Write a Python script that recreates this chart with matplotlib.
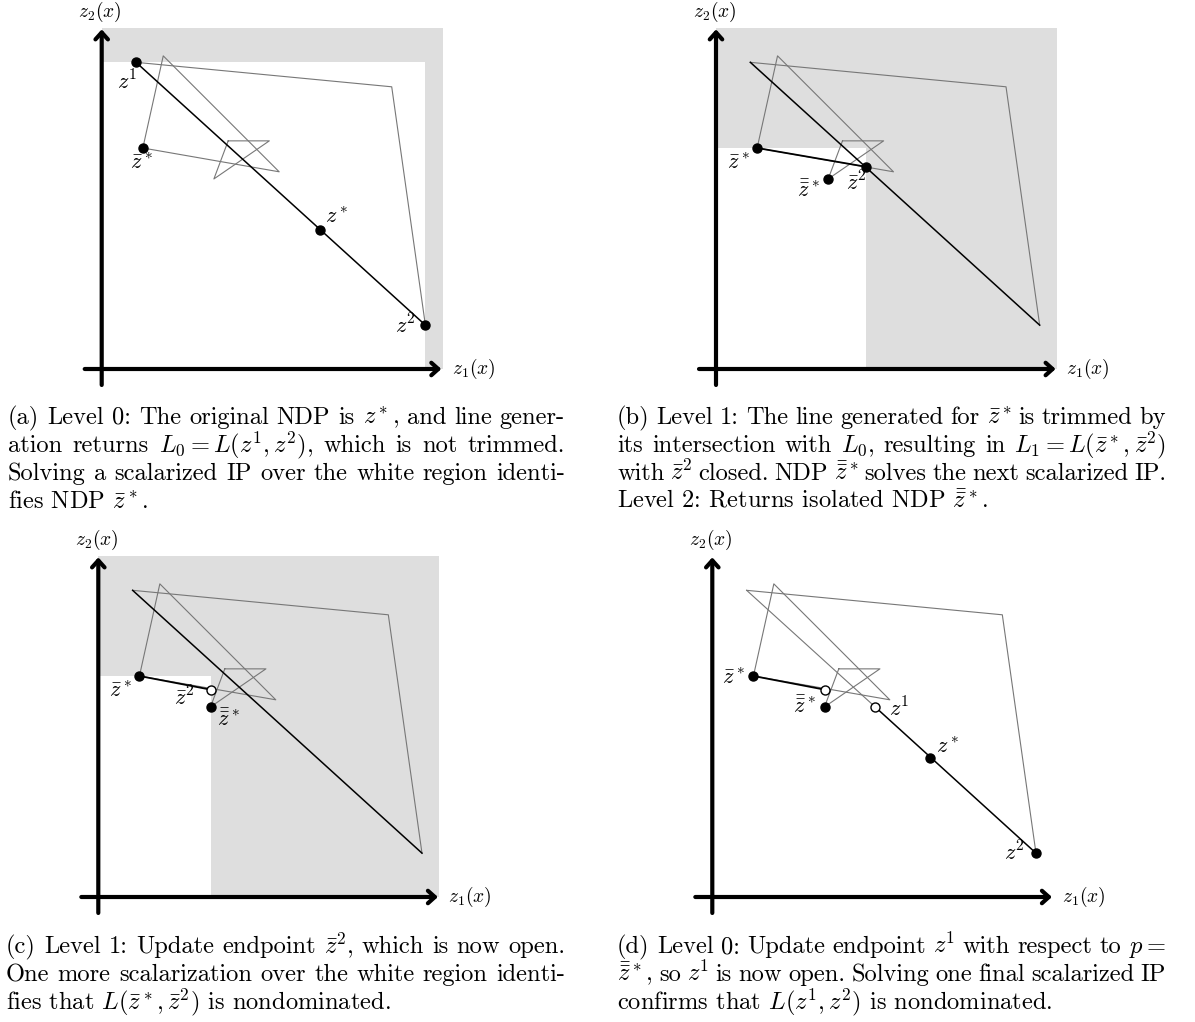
import re
import numpy as np
import matplotlib.pyplot as plt
from matplotlib.patches import Rectangle

plt.rcParams['mathtext.fontset'] = 'cm'
plt.rcParams['font.family'] = ['cmr10', 'DejaVu Serif']
plt.rcParams['axes.formatter.use_mathtext'] = True

# objective-space points (axis length ~10)
z1 = [1.01, 9.02]
z2 = [9.52, 1.29]
z_star = [6.41, 4.10]
zb_star = [1.21, 6.50]
zbb_star = [3.30, 5.59]
zb2_closed = [4.40, 5.95]
zb2_open = [3.30, 6.10]
z1_open = [4.79, 5.59]

# gray outline of the feasible set
outer_x = [1.01, 8.53, 9.52]
outer_y = [9.02, 8.30, 1.29]
tri1_x = [1.21, 1.81, 5.22, 1.21]
tri1_y = [6.50, 9.21, 5.80, 6.50]
tri2_x = [3.72, 4.93, 3.30, 3.72]
tri2_y = [6.71, 6.71, 5.59, 6.71]

box_max = 10.03
white_a = [9.52, 9.02]
white_b = [4.40, 6.50]
white_c = [3.30, 6.50]

captions = {
    'a': [r'(a) Level 0: The original NDP is $z^*$, and line gener-',
          r'ation returns $L_0 = L(z^1, z^2)$, which is not trimmed.',
          r'Solving a scalarized IP over the white region identi-',
          r'fies NDP $\bar{z}^*$.'],
    'b': [r'(b) Level 1: The line generated for $\bar{z}^*$ is trimmed by',
          r'its intersection with $L_0$, resulting in $L_1 = L(\bar{z}^*, \bar{z}^2)$',
          r'with $\bar{z}^2$ closed. NDP $\bar{\bar{z}}^*$ solves the next scalarized IP.',
          r'Level 2: Returns isolated NDP $\bar{\bar{z}}^*$.'],
    'c': [r'(c) Level 1: Update endpoint $\bar{z}^2$, which is now open.',
          r'One more scalarization over the white region identi-',
          r'fies that $L(\bar{z}^*, \bar{z}^2)$ is nondominated.'],
    'd': [r'(d) Level 0: Update endpoint $z^1$ with respect to $p =$',
          r'$\bar{\bar{z}}^*$, so $z^1$ is now open. Solving one final scalarized IP',
          r'confirms that $L(z^1, z^2)$ is nondominated.'],
}

W, H = 1195, 1022
S = 34.0  # pixels per unit
GRAY = '#777777'
FILL = '#dedede'
CAP_FS = 17.6

fig = plt.figure(figsize=(W / 100, H / 100), dpi=100)
renderer = fig.canvas.get_renderer()


def make_ax(ox, oy):
    ax = fig.add_axes([(ox - S) / W, 1 - (oy + S) / H, 13 * S / W, 11.8 * S / H])
    ax.set_xlim(-1, 12)
    ax.set_ylim(-1, 10.8)
    ax.axis('off')
    return ax


def base(ax, white=None, l0_black=True):
    if white is not None:
        ax.add_patch(Rectangle((0, 0), box_max, box_max, fc=FILL, ec='none', zorder=0))
        ax.add_patch(Rectangle((0, 0), white[0], white[1], fc='white', ec='none', zorder=0.5))
    ax.plot(outer_x, outer_y, color=GRAY, lw=0.8, zorder=2)
    ax.plot(tri1_x, tri1_y, color=GRAY, lw=0.8, zorder=2)
    ax.plot(tri2_x, tri2_y, color=GRAY, lw=0.8, zorder=2)
    if l0_black:
        ax.plot([z1[0], z2[0]], [z1[1], z2[1]], color='black', lw=1.1, zorder=3)
    arrow = dict(arrowstyle='->,head_length=0.5,head_width=0.45', lw=3,
                 color='black', shrinkA=0, shrinkB=0)
    ax.annotate('', xy=(9.99, 0), xytext=(-0.5, 0), arrowprops=arrow, zorder=5)
    ax.annotate('', xy=(0, 9.99), xytext=(0, -0.47), arrowprops=arrow, zorder=5)
    ax.text(-0.05, 10.5, r'$z_2(x)$', ha='center', va='center', fontsize=14)
    ax.text(10.29, 0, r'$z_1(x)$', ha='left', va='center', fontsize=14)


def dot(ax, p, label, off, hollow=False):
    ax.plot(p[0], p[1], 'o', ms=6.5, mfc='white' if hollow else 'black',
            mec='black', mew=1.0, zorder=6)
    if label:
        ax.annotate(label, p, xytext=off, textcoords='offset pixels',
                    ha='center', va='center', fontsize=16)


def caption(key, x, y, width):
    lines = captions[key]
    for i, line in enumerate(lines):
        yy = 1 - (y + 28 * i) / H
        if i == len(lines) - 1:
            fig.text(x / W, yy, line, ha='left', va='baseline', fontsize=CAP_FS)
            continue
        # justify: spread words across the column width
        words = re.findall(r'(?:\$[^$]*\$|[^\s$])+', line)
        texts = [fig.text(0, yy, w, ha='left', va='baseline', fontsize=CAP_FS) for w in words]
        widths = [t.get_window_extent(renderer).width for t in texts]
        gap = (width - sum(widths)) / (len(words) - 1)
        pos = x
        for t, wd in zip(texts, widths):
            t.set_x(pos / W)
            pos += wd + gap


# (a)
ax = make_ax(101.7, 369)
base(ax, white_a)
dot(ax, z1, r'$z^1$', (-9, -19))
dot(ax, zb_star, r'$\bar{z}^*$', (-1, -15))
dot(ax, z_star, r'$z^*$', (17, 13))
dot(ax, z2, r'$z^2$', (-20, 0))
caption('a', 8, 424, 557)

# (b)
ax = make_ax(716, 369)
base(ax, white_b)
ax.plot([zb_star[0], zb2_closed[0]], [zb_star[1], zb2_closed[1]], color='black', lw=1.3, zorder=3)
dot(ax, zb_star, r'$\bar{z}^*$', (-19, -15))
dot(ax, zbb_star, r'$\bar{\bar{z}}^*$', (-20, -12))
dot(ax, zb2_closed, r'$\bar{z}^2$', (-9, -16))
caption('b', 617, 424, 549)

# (c)
ax = make_ax(98.3, 897)
base(ax, white_c)
ax.plot([zb_star[0], zb2_open[0]], [zb_star[1], zb2_open[1]], color='black', lw=1.3, zorder=3)
dot(ax, zb_star, r'$\bar{z}^*$', (-19, -15))
dot(ax, zb2_open, r'$\bar{z}^2$', (-26, -8), hollow=True)
dot(ax, zbb_star, r'$\bar{\bar{z}}^*$', (18, -13))
caption('c', 6, 953, 559)

# (d)
ax = make_ax(712.3, 897)
base(ax, None, l0_black=False)
ax.plot([z1[0], z1_open[0]], [z1[1], z1_open[1]], color=GRAY, lw=0.8, zorder=2)
ax.plot([z1_open[0], z2[0]], [z1_open[1], z2[1]], color='black', lw=1.1, zorder=3)
ax.plot([zb_star[0], zb2_open[0]], [zb_star[1], zb2_open[1]], color='black', lw=1.3, zorder=3)
dot(ax, zb_star, r'$\bar{z}^*$', (-20, -2))
dot(ax, zb2_open, None, None, hollow=True)
dot(ax, zbb_star, r'$\bar{\bar{z}}^*$', (-20, 0))
dot(ax, z1_open, r'$z^1$', (24, -2), hollow=True)
dot(ax, z_star, r'$z^*$', (17, 11))
dot(ax, z2, r'$z^2$', (-22, 1))
caption('d', 617, 953, 549)

fig.savefig('out.png', dpi=100)
